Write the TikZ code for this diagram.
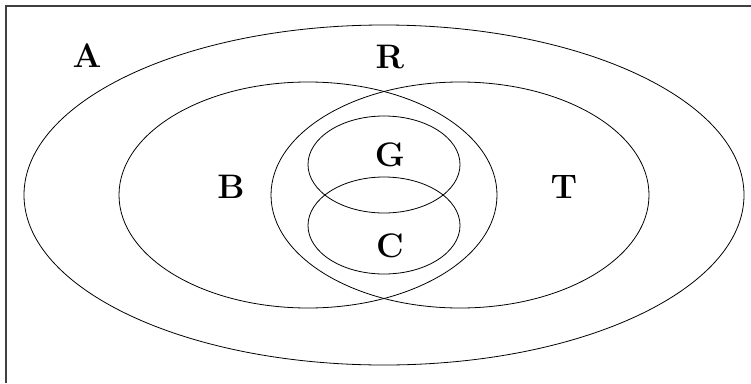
\documentclass[tikz,border=0pt]{standalone}
\usepackage{fontspec}
\begin{document}
\begin{tikzpicture}[x=1pt,y=-1pt,
  setline/.style={draw=black,line width=0.8pt},
  framel/.style={draw=black!75,line width=1.3pt},
  lbl/.style={font=\fontsize{34}{34}\selectfont\bfseries,inner sep=0pt}]
\useasboundingbox (0,0) rectangle (751,383);
\draw[framel] (6,383) -- (6,6) -- (751,6);
\coordinate (cA) at (384,195);
\coordinate (cB) at (308,195);
\coordinate (cT) at (460,195);
\coordinate (cG) at (384,164.5);
\coordinate (cC) at (384,225.5);
\draw[setline] (cA) ellipse [x radius=360, y radius=170];
\draw[setline] (cB) ellipse [x radius=189, y radius=113];
\draw[setline] (cT) ellipse [x radius=189, y radius=113];
\draw[setline] (cG) ellipse [x radius=76, y radius=48.5];
\draw[setline] (cC) ellipse [x radius=76, y radius=48.5];
\node[lbl] (A) at (87,56) {A};
\node[lbl] (R) at (390,57) {R};
\node[lbl] (B) at (231,187) {B};
\node[lbl] (T) at (564,187) {T};
\node[lbl] (G) at (390,155) {G};
\node[lbl] (C) at (390,246) {C};
\end{tikzpicture}
\end{document}
